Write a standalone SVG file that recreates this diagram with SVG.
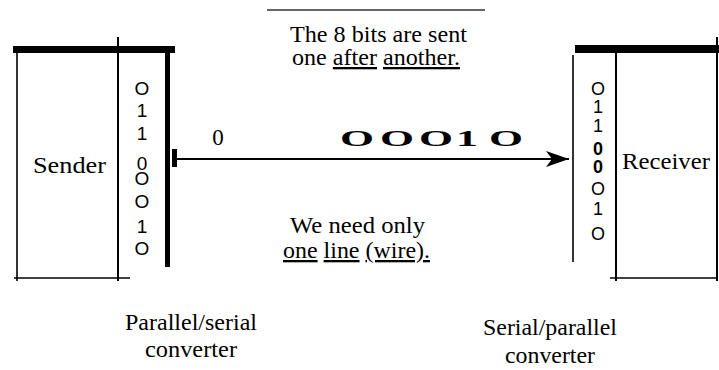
<svg xmlns="http://www.w3.org/2000/svg" width="719" height="370" viewBox="0 0 719 370">
  <style>
    .thin { stroke: #000; stroke-width: 1.6; fill: none; }
    .mid { stroke: #000; stroke-width: 2; fill: none; }
    .bar { fill: #000; }
    .serif { font-family: 'Liberation Serif', 'Times New Roman', Times, serif; font-size: 23px; fill: #000; }
    .bits { font-family: 'Liberation Sans', Arial, Helvetica, sans-serif; font-size: 19px; fill: #000; text-anchor: middle; }
    .bitsR { font-family: 'Liberation Sans', Arial, Helvetica, sans-serif; font-size: 18px; fill: #000; text-anchor: middle; }
    .u { text-decoration: underline; }
  </style>
  <defs>
    <marker id="arrowhead" markerUnits="userSpaceOnUse" markerWidth="24" markerHeight="18" refX="23" refY="8" orient="auto">
      <path d="M0,0 L23,8 L0,16 L6,8 Z" fill="#000"/>
    </marker>
  </defs>

  <!-- sender block -->
  <g id="sender">
    <line class="thin" x1="17" y1="47" x2="17" y2="281"/>
    <line class="thin" x1="14" y1="278" x2="130" y2="278"/>
    <text class="serif" x="33" y="173" textLength="73" lengthAdjust="spacingAndGlyphs">Sender</text>
  </g>

  <!-- parallel/serial converter -->
  <g id="parallel-serial-converter">
    <rect class="bar" x="13" y="46" width="162" height="7"/>
    <line class="mid" x1="118" y1="37" x2="118" y2="281"/>
    <rect class="bar" x="165" y="46" width="5" height="221"/>
    <rect class="bar" x="172" y="149" width="5" height="18"/>
    <text class="bits" x="142" y="95">O</text>
    <text class="bits" x="142" y="117">1</text>
    <text class="bits" x="142" y="140">1</text>
    <text class="bits" x="142" y="170">0</text>
    <text class="bits" x="142" y="185">O</text>
    <text class="bits" x="142" y="208">O</text>
    <text class="bits" x="142" y="233">1</text>
    <text class="bits" x="142" y="255">O</text>
    <text class="serif" x="125" y="330" textLength="132" lengthAdjust="spacingAndGlyphs">Parallel/serial</text>
    <text class="serif" x="145" y="357" textLength="92" lengthAdjust="spacingAndGlyphs">converter</text>
  </g>

  <!-- serial/parallel converter -->
  <g id="serial-parallel-converter">
    <line class="thin" x1="573" y1="55" x2="573" y2="262"/>
    <text class="bitsR" x="598" y="95">O</text>
    <text class="bitsR" x="598" y="113">1</text>
    <text class="bitsR" x="598" y="132">1</text>
    <text class="bitsR" x="598" y="155" font-weight="bold">0</text>
    <text class="bitsR" x="598" y="173" font-weight="bold">0</text>
    <text class="bitsR" x="598" y="195">O</text>
    <text class="bitsR" x="598" y="215">1</text>
    <text class="bitsR" x="598" y="240">O</text>
    <text class="serif" x="483" y="335" textLength="134" lengthAdjust="spacingAndGlyphs">Serial/parallel</text>
    <text class="serif" x="505" y="363" textLength="90" lengthAdjust="spacingAndGlyphs">converter</text>
  </g>

  <!-- receiver block -->
  <g id="receiver">
    <rect class="bar" x="575" y="45" width="144" height="8"/>
    <line class="mid" x1="616" y1="45" x2="616" y2="281"/>
    <line class="mid" x1="717" y1="37" x2="717" y2="281"/>
    <line class="thin" x1="610" y1="278" x2="717" y2="278"/>
    <text class="serif" x="622" y="169" textLength="88" lengthAdjust="spacingAndGlyphs">Receiver</text>
  </g>

  <!-- serial line -->
  <g id="connectors">
    <line x1="177" y1="159" x2="569" y2="159" stroke="#000" stroke-width="2" marker-end="url(#arrowhead)"/>
  </g>

  <!-- bits on the wire -->
  <g id="wire-bits">
    <text class="serif" x="218" y="145" text-anchor="middle" font-size="22">0</text>
    <text class="serif" font-size="22" font-weight="bold" text-anchor="middle" transform="translate(0,146) scale(1.9,1)" x="187.9 208.9 229.5 245.8 266.3" y="0">OOO1O</text>
  </g>

  <!-- notes -->
  <g id="note-top">
    <line x1="267" y1="10" x2="485" y2="10" stroke="#333" stroke-width="1.6"/>
    <text class="serif" x="290" y="42" textLength="177" lengthAdjust="spacingAndGlyphs">The 8 bits are sent</text>
    <text class="serif" x="292" y="65" textLength="168" lengthAdjust="spacingAndGlyphs">one <tspan class="u">after</tspan> <tspan class="u">another.</tspan></text>
  </g>
  <g id="note-bottom">
    <text class="serif" x="290" y="233" textLength="135" lengthAdjust="spacingAndGlyphs">We need only</text>
    <text class="serif" x="283" y="258" textLength="147" lengthAdjust="spacingAndGlyphs"><tspan class="u">one</tspan> <tspan class="u">line</tspan> <tspan class="u">(wire).</tspan></text>
  </g>
</svg>
